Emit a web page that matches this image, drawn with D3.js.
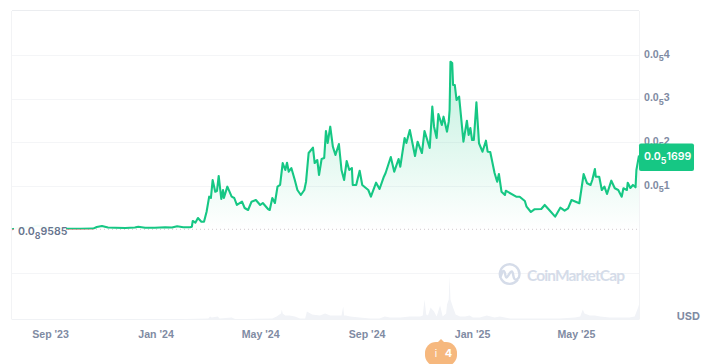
<!DOCTYPE html>
<html>
<head>
<meta charset="utf-8">
<script src="https://cdn.jsdelivr.net/npm/d3@7"></script>
<style>
  html, body { margin: 0; padding: 0; background: #fff; }
  svg { display: block; font-family: Inter, "Noto Sans", sans-serif; }
  .tick-label { font-size: 10.6px; font-weight: 600; fill: #7f8ba3; }
  .sub { font-size: 9px; }
</style>
</head>
<body>
<div id="chart"></div>
<script>
// days since the first point, price in millionths of a USD (1 = 0.0₅1)
var priceDays = [0,5,15,21,30,38,50,62,79,94,98,104,111,119,131,142,146,154,165,177,185,191,198,206,
  208,209,212,215,219,222,225,228,230,232,235,237,239,242,244,245,249,254,257,260,266,269,273,277,282,287,290,296,298,
  301,304,307,310,313,316,318,320,323,327,330,334,338,340,343,348,350,353,355,358,361,363,365,368,371,374,378,381,384,387,390,393,394,398,
  402,405,412,415,421,425,430,432,438,442,447,449,454,456,460,466,469,474,477,483,486,488,491,493,497,499,503,505,506,507,509,510,512,514,517,
  522,526,528,530,532,534,537,540,544,548,550,553,558,561,563,566,570,571,583,587,593,595,600,604,612,616,622,628,634,639,643,647,
  656,661,665,669,671,674,675,679,682,685,688,693,697,701,705,707,711,712,715,718,721,722,725];
var priceValues = [0.0096,0.027,0.05,0.062,0.096,0.062,0.039,0.021,0.021,0.025,0.062,0.085,0.05,0.046,0.039,0.05,0.066,0.046,0.044,0.055,0.05,0.078,0.057,0.057,
  0.069,0.2,0.16,0.268,0.183,0.183,0.412,0.756,0.726,1.138,0.87,0.886,1.23,0.703,0.909,0.726,0.985,0.756,0.726,0.566,0.641,0.497,0.451,0.641,0.68,0.566,0.611,0.474,0.451,
  0.726,0.611,0.985,1.024,1.527,1.367,1.534,1.328,1.413,1.138,0.909,0.795,0.909,1.099,1.756,1.878,1.527,1.596,1.253,1.619,1.642,2.26,1.985,2.359,1.901,1.711,1.962,1.367,1.138,1.573,1.367,1.413,1.024,1.024,
  1.351,1.024,0.909,0.756,1.076,0.932,1.214,1.298,1.665,1.328,1.619,1.443,2.1,1.985,2.283,1.688,2.015,1.756,2.26,1.871,2.817,2.359,2.1,2.65,2.398,2.588,2.244,2.473,2.74,3.847,3.817,3.314,3.314,2.97,3.046,
  2.015,2.496,2.169,2.329,2.054,2.054,2.917,1.979,1.786,2.038,1.786,1.779,1.298,1.099,1.275,0.87,0.795,0.893,0.756,0.756,0.657,0.527,0.405,0.467,0.474,0.566,0.435,0.298,0.504,0.435,0.49,0.68,
  0.605,1.275,1.063,1.024,1.138,1.39,1.214,1.214,0.909,0.985,0.818,1.122,0.948,0.909,0.756,0.948,0.909,1.076,0.955,1.024,0.971,1.367,1.699];

var volumeDays = [0,200,227,229,231,238,240,254,258,270,301,306,311,312,313,316,321,327,333,339,341,347,356,362,368,381,383,384,386,391,402,414,425,431,437,449,460,472,475,477,479,481,484,488,491,495,498,502,503,505,506,507,510,513,518,524,529,533,541,549,558,564,576,587,610,633,651,657,660,662,668,674,680,691,703,714,720,724,725];
var volumeValues = [0,0.5,1,3,2,3,1,2,0.5,0.5,1,3,6,10,6,4,4,3,1,1,8,5,4,6,4,4,13,4,4,3,2,1,1,3,2,2,3,3,4,20,5,4,12,8,3,14,3,6,15,20,44,20,12,5,3,3,4,2,2,4,2,3,1,1,1,1,2,3,10,6,4,4,3,2,2,2,3,12,15];

var priceTicks = [1, 2, 3, 4];
var gridValues = [-1, 1, 2, 3, 4];
var monthDates = ["2023-09-01", "2024-01-01", "2024-05-01", "2024-09-01", "2025-01-01", "2025-05-01"];
var monthLabels = ["Sep '23", "Jan '24", "May '24", "Sep '24", "Jan '25", "May '25"];
var startValue = 0.009585;
var startLabel = ["0.0", "8", "9585"];
var lastLabel = ["0.0", "5", "1699"];

var firstDay = new Date(2023, 6, 19);
var dayDate = function(d) { return d3.timeDay.offset(firstDay, d); };

var width = 706, height = 364;
var plot = {left: 12, right: 639, top: 11, bottom: 319.5};

var svg = d3.select("#chart").append("svg").attr("width", width).attr("height", height);

var x = d3.scaleTime().domain([firstDay, dayDate(725)]).range([plot.left, plot.right]);
var y = d3.scaleLinear().domain([0, 4]).range([229.7, 55]);
var yVolume = d3.scaleLinear().domain([0, 44]).range([plot.bottom, 275.5]);

function subText(sel, parts) {
  sel.text(null);
  sel.append("tspan").text(parts[0]);
  sel.append("tspan").attr("class", "sub").attr("dy", 3.5).text(parts[1]);
  sel.append("tspan").attr("dy", -3.5).text(parts[2]);
}

// frame and grid
svg.append("g").selectAll("line").data(gridValues).enter().append("line")
  .attr("x1", plot.left).attr("x2", plot.right)
  .attr("y1", function(d) { return Math.round(y(d)) + 0.5; })
  .attr("y2", function(d) { return Math.round(y(d)) + 0.5; })
  .attr("stroke", "#f4f5f7");
svg.append("line").attr("x1", plot.left).attr("x2", plot.right).attr("y1", plot.top - 0.5).attr("y2", plot.top - 0.5).attr("stroke", "#ebedf0");
svg.append("line").attr("x1", 11.5).attr("x2", 11.5).attr("y1", plot.top).attr("y2", plot.bottom).attr("stroke", "#f2f3f5");
svg.append("line").attr("x1", 639.5).attr("x2", 639.5).attr("y1", plot.top).attr("y2", plot.bottom).attr("stroke", "#f2f3f5");
svg.append("line").attr("x1", plot.left).attr("x2", plot.right).attr("y1", plot.bottom).attr("y2", plot.bottom).attr("stroke", "#f0f2f5");

// watermark
var mark = svg.append("g");
mark.append("path")
  .attr("d", "M517.8 279.5 A9.8 9.8 0 1 1 519.4 275 C519.4 279 516 280.5 514.5 279 C513 277.5 513.5 272 511.8 271.5 C510 271 508 277.5 506.5 277.5 C505 277.5 505.5 271 503.5 271 C501.5 271 502 276 499.5 278")
  .attr("fill", "none").attr("stroke", "#d5dce9").attr("stroke-width", 2.4);
mark.append("text").attr("x", 527).attr("y", 281)
  .attr("font-family", "Lato, sans-serif").attr("font-weight", 700).attr("font-size", 15.5)
  .attr("textLength", 98).attr("fill", "#d5dce9").text("CoinMarketCap");

// volume
var volumeArea = d3.area()
  .x(function(d, i) { return x(dayDate(volumeDays[i])); })
  .y0(plot.bottom)
  .y1(function(d) { return yVolume(d); });
svg.append("path").datum(volumeValues).attr("d", volumeArea).attr("fill", "#f1f3f7");

// price
var defs = svg.append("defs");
var grad = defs.append("linearGradient").attr("id", "fade").attr("gradientUnits", "userSpaceOnUse")
  .attr("x1", 0).attr("x2", 0).attr("y1", 60).attr("y2", y(startValue));
grad.append("stop").attr("offset", 0).attr("stop-color", "#16c784").attr("stop-opacity", 0.27);
grad.append("stop").attr("offset", 1).attr("stop-color", "#16c784").attr("stop-opacity", 0);
defs.append("clipPath").attr("id", "above").append("rect")
  .attr("x", 0).attr("y", 0).attr("width", plot.right).attr("height", y(startValue));
defs.append("clipPath").attr("id", "below").append("rect")
  .attr("x", 0).attr("y", y(startValue)).attr("width", plot.right).attr("height", 40);

var priceArea = d3.area()
  .x(function(d, i) { return x(dayDate(priceDays[i])); })
  .y0(y(startValue))
  .y1(function(d) { return y(d); });
var priceLine = d3.line()
  .x(function(d, i) { return x(dayDate(priceDays[i])); })
  .y(function(d) { return y(d); });

svg.append("path").datum(priceValues).attr("d", priceArea).attr("fill", "url(#fade)").attr("clip-path", "url(#above)");
svg.append("line").attr("x1", plot.left).attr("x2", plot.right)
  .attr("y1", y(startValue)).attr("y2", y(startValue))
  .attr("stroke", "#cfc8cc").attr("stroke-dasharray", "1,3");
svg.append("path").datum(priceValues).attr("d", priceLine).attr("fill", "none")
  .attr("stroke", "#ea3943").attr("stroke-opacity", 0.8).attr("stroke-width", 2).attr("clip-path", "url(#below)");
svg.append("path").datum(priceValues).attr("d", priceLine).attr("fill", "none")
  .attr("stroke", "#16c784").attr("stroke-width", 2.1).attr("stroke-linejoin", "round").attr("clip-path", "url(#above)");

// start value label
svg.append("rect").attr("x", 14).attr("y", 222).attr("width", 52).attr("height", 17).attr("fill", "#fff").attr("fill-opacity", 0.95);
svg.append("text").attr("class", "tick-label").attr("x", 18).attr("y", 235)
  .style("fill", "#67748e").call(subText, startLabel);

// axes
var xAxis = d3.axisBottom(x)
  .tickValues(monthDates.map(function(d) { return d3.timeParse("%Y-%m-%d")(d); }))
  .tickFormat(function(d, i) { return monthLabels[i]; })
  .tickSize(0).tickPadding(0);
var xG = svg.append("g").attr("transform", "translate(0,328)").call(xAxis);
xG.select(".domain").remove();
xG.selectAll("text").attr("class", "tick-label").attr("font-family", null).attr("font-size", null).attr("fill", null).attr("dy", "0.95em");

var yAxis = d3.axisRight(y).tickValues(priceTicks).tickSize(0).tickPadding(0);
var yG = svg.append("g").attr("transform", "translate(644,0)").call(yAxis);
yG.select(".domain").remove();
yG.selectAll("text").attr("class", "tick-label").attr("font-family", null).attr("font-size", null).attr("fill", null).attr("dy", "0.2em")
  .each(function(d) { d3.select(this).call(subText, ["0.0", "5", d]); });

svg.append("text").attr("class", "tick-label").attr("x", 700).attr("y", 319.5).attr("text-anchor", "end").style("font-weight", 700).style("font-size", "11px").text("USD");

// current price badge
svg.append("rect").attr("x", 639).attr("y", 143.5).attr("width", 55).attr("height", 27.5).attr("rx", 2).attr("fill", "#16c784");
svg.append("text").attr("class", "tick-label").attr("x", 644).attr("y", 160)
  .style("fill", "#fff").call(subText, lastLabel);

// annotation bubble
var bubble = svg.append("g");
bubble.append("path").attr("d", "M437 343 L441 339 L445 343 Z").attr("fill", "#f6b87e");
bubble.append("rect").attr("x", 425).attr("y", 342).attr("width", 32).attr("height", 24).attr("rx", 11).attr("fill", "#f6b87e");
bubble.append("text").attr("x", 436).attr("y", 357).attr("text-anchor", "middle").attr("font-size", 10).attr("fill", "#fff").text("i");
bubble.append("text").attr("x", 448.5).attr("y", 357).attr("text-anchor", "middle").attr("font-size", 11).attr("font-weight", 700).attr("fill", "#fff").text("4");
</script>
</body>
</html>
